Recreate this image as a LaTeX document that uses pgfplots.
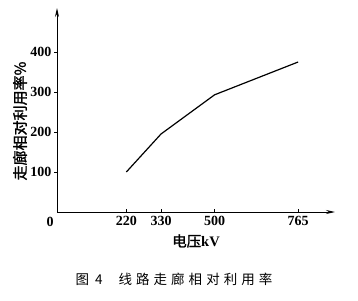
\documentclass[border=0pt]{standalone}
\usepackage{fontspec}
\setmainfont{Liberation Serif}
\newfontfamily\cjk{Noto Sans CJK SC}
\newfontfamily\cjkb{Noto Sans CJK SC}[FakeBold=1.5]
\newfontfamily\cjkcap{Noto Sans CJK SC}[LetterSpace=30]
\usepackage{pgfplots}
\pgfplotsset{compat=1.18}
\usetikzlibrary{arrows.meta}
\begin{document}
\begin{tikzpicture}
\path (0,0) rectangle (358pt,300pt);
\begin{axis}[
  at={(57pt,88pt)}, anchor=south west,
  scale only axis, width=278pt, height=204pt,
  xmin=0, xmax=882, ymin=0, ymax=510,
  axis lines=left,
  axis line style={line width=0.9pt, -{Stealth[length=9pt,width=4pt]}},
  xtick={220,330,500,765},
  ytick={100,200,300,400},
  xtick align=inside, ytick align=outside,
  major tick length=3pt,
  tick style={line width=0.8pt, black},
  /pgf/number format/assume math mode=true,
  /pgf/number format/1000 sep={},
  ticklabel style={font=\fontsize{14}{14}\selectfont\bfseries},
  yticklabel style={xshift=1pt},
  xticklabel style={yshift=-1pt},
  clip=false,
]
\addplot[black, line width=1.2pt] coordinates {(220,100) (330,195) (500,293) (765,375)};
\node[anchor=north east, font=\fontsize{14}{14}\selectfont\bfseries, inner sep=0pt] at (axis cs:-10,-12) {0};
\end{axis}
\node[rotate=90, font=\cjkb\fontsize{15}{15}\selectfont] at (20pt,179pt) {走廊相对利用率\%};
\node[font=\fontsize{14.5}{14.5}\selectfont] at (196pt,59pt) {{\cjkb 电压}\textbf{kV}};
\node[anchor=west, font=\cjkcap\fontsize{13.5}{13.5}\selectfont] at (72pt,21pt) {图\hspace{6pt}4\hspace{16pt}线路走廊相对利用率};
\end{tikzpicture}
\end{document}
